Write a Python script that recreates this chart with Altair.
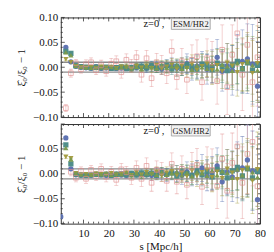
import altair as alt
import pandas as pd

# ---------------- data ----------------
s_vals = [1, 3, 5, 7, 9, 11, 13, 15, 17, 19, 21, 23, 25, 27, 29, 31, 33, 35, 37, 39,
          41, 43, 45, 47, 49, 51, 53, 55, 57, 59, 61, 63, 65, 67, 69, 71, 73, 75, 77, 79]

series_names = ["blue", "teal", "olive", "green", "pink"]
series_colors = ["#5a6fb0", "#4a8a86", "#a39b3e", "#7a9a4e", "#e08c8c"]
series_shapes = ["circle", "square", "triangle-down", "triangle-up", "square"]

# top panel (ESM/HR2)
blue_t = [None, 0.040, 0.011, 0.002, 0.000, -0.001, -0.002, 0.001, -0.002, -0.001, -0.002, -0.002, -0.001, -0.001, -0.002, 0.000, 0.001, -0.002, 0.002, 0.000,
          -0.003, 0.002, 0.004, -0.002, 0.001, 0.007, -0.004, 0.002, 0.005, -0.004, 0.002, 0.020, -0.008, 0.003, -0.006, 0.010, 0.012, 0.017, 0.006, -0.038]
teal_t = [None, 0.032, 0.028, 0.003, 0.001, 0.000, -0.001, 0.000, -0.001, 0.000, -0.002, -0.001, 0.000, -0.002, -0.001, 0.001, 0.002, -0.001, 0.003, -0.002,
          0.001, 0.004, -0.003, 0.002, -0.002, 0.005, 0.001, -0.004, 0.006, 0.003, -0.005, 0.008, 0.002, -0.007, 0.004, 0.012, -0.003, 0.009, -0.006, 0.004]
olive_t = [None, 0.016, 0.010, 0.002, 0.000, -0.001, 0.000, -0.002, 0.001, -0.001, 0.000, -0.002, 0.001, 0.000, -0.003, 0.002, -0.001, 0.003, -0.002, 0.004,
           -0.003, 0.001, 0.005, -0.004, 0.003, -0.002, 0.006, -0.005, 0.002, 0.007, -0.006, 0.004, -0.008, 0.009, 0.003, -0.010, 0.006, 0.011, -0.012, 0.008]
green_t = [None, 0.030, 0.024, 0.003, 0.001, 0.000, -0.001, 0.001, 0.000, -0.001, 0.001, -0.001, 0.000, 0.002, -0.002, 0.001, -0.003, 0.002, 0.000, -0.002,
           0.003, -0.001, 0.002, 0.004, -0.003, 0.001, -0.005, 0.004, 0.000, -0.003, 0.006, -0.004, 0.005, 0.002, -0.007, 0.008, -0.002, 0.010, 0.004, -0.006]
pink_t = [None, -0.082, -0.012, 0.008, -0.004, 0.006, 0.010, -0.006, 0.004, -0.008, 0.007, 0.012, -0.010, 0.015, 0.003, 0.020, -0.015, 0.018, -0.022, 0.010,
          0.005, -0.012, 0.033, -0.020, 0.012, -0.025, 0.015, 0.022, -0.030, 0.018, 0.010, -0.028, 0.035, -0.040, 0.025, 0.068, -0.015, 0.045, -0.030, 0.020]

# bottom panel (GSM/HR2)
blue_b = [-0.086, 0.072, 0.010, -0.002, -0.003, -0.002, -0.003, -0.001, -0.002, -0.003, -0.002, -0.001, -0.002, -0.003, -0.001, 0.000, -0.002, 0.001, -0.003, 0.002,
          0.000, -0.002, 0.003, 0.001, -0.003, 0.004, -0.002, 0.003, 0.012, -0.004, 0.002, 0.016, -0.016, 0.004, -0.006, 0.008, 0.012, 0.028, 0.006, -0.052]
teal_b = [None, 0.058, 0.020, -0.001, -0.002, -0.003, -0.002, -0.001, -0.002, -0.001, -0.003, -0.001, 0.000, -0.002, 0.001, -0.002, 0.002, -0.001, 0.001, -0.003,
          0.003, -0.001, 0.002, -0.004, 0.004, 0.001, -0.003, 0.006, -0.002, 0.005, -0.006, 0.009, 0.003, -0.008, 0.006, 0.013, -0.004, 0.010, -0.008, 0.005]
olive_b = [None, 0.034, 0.031, 0.001, -0.002, -0.001, -0.003, 0.000, -0.001, -0.002, 0.001, -0.002, -0.001, 0.001, -0.003, 0.002, -0.002, 0.003, -0.001, 0.004,
           -0.004, 0.002, 0.005, -0.003, 0.002, -0.005, 0.006, -0.004, 0.003, 0.008, -0.007, 0.004, -0.009, 0.010, 0.002, -0.011, 0.007, 0.012, -0.014, 0.009]
green_b = [None, 0.052, 0.029, 0.001, -0.001, -0.002, -0.002, 0.000, -0.001, 0.001, -0.002, 0.000, -0.001, 0.002, -0.002, 0.001, -0.003, 0.001, 0.002, -0.002,
           0.003, -0.002, 0.001, 0.004, -0.003, 0.002, -0.005, 0.003, 0.001, -0.004, 0.006, -0.003, 0.005, 0.002, -0.008, 0.009, -0.003, 0.011, 0.003, -0.007]
pink_b = [None, None, 0.004, -0.008, 0.006, -0.010, 0.008, -0.004, 0.010, -0.006, 0.004, -0.012, 0.009, 0.003, -0.008, 0.012, -0.010, 0.016, -0.018, 0.008,
          0.004, -0.014, 0.020, -0.016, 0.010, -0.022, 0.013, 0.018, -0.026, 0.015, 0.008, -0.024, 0.030, -0.034, 0.022, 0.055, -0.018, 0.040, 0.064, -0.025]

# error bar half-widths (per series)
err_blue = [0.004, 0.003, 0.002, 0.002, 0.002, 0.002, 0.003, 0.003, 0.003, 0.004, 0.004, 0.005, 0.005, 0.006, 0.006, 0.007, 0.008, 0.009, 0.010, 0.011,
            0.012, 0.013, 0.015, 0.016, 0.018, 0.020, 0.022, 0.024, 0.027, 0.030, 0.033, 0.036, 0.040, 0.045, 0.050, 0.056, 0.063, 0.070, 0.080, 0.090]
err_teal = [0.003, 0.003, 0.002, 0.002, 0.002, 0.002, 0.002, 0.003, 0.003, 0.003, 0.004, 0.004, 0.004, 0.005, 0.005, 0.006, 0.007, 0.007, 0.008, 0.009,
            0.010, 0.011, 0.012, 0.013, 0.015, 0.016, 0.018, 0.020, 0.022, 0.024, 0.027, 0.030, 0.033, 0.036, 0.040, 0.045, 0.050, 0.056, 0.063, 0.070]
err_olive = [0.004, 0.003, 0.003, 0.002, 0.002, 0.002, 0.003, 0.003, 0.003, 0.004, 0.004, 0.004, 0.005, 0.005, 0.006, 0.006, 0.007, 0.008, 0.009, 0.010,
             0.011, 0.012, 0.013, 0.014, 0.016, 0.018, 0.019, 0.021, 0.024, 0.026, 0.029, 0.032, 0.035, 0.039, 0.043, 0.048, 0.053, 0.059, 0.066, 0.075]
err_green = [0.003, 0.003, 0.002, 0.002, 0.002, 0.002, 0.002, 0.003, 0.003, 0.003, 0.003, 0.004, 0.004, 0.005, 0.005, 0.006, 0.006, 0.007, 0.008, 0.009,
             0.010, 0.011, 0.012, 0.013, 0.014, 0.016, 0.017, 0.019, 0.021, 0.023, 0.026, 0.028, 0.031, 0.035, 0.038, 0.042, 0.047, 0.052, 0.058, 0.065]
err_pink = [0.008, 0.007, 0.008, 0.008, 0.008, 0.009, 0.009, 0.009, 0.010, 0.010, 0.011, 0.011, 0.012, 0.012, 0.013, 0.014, 0.015, 0.016, 0.017, 0.018,
            0.019, 0.021, 0.022, 0.024, 0.026, 0.028, 0.030, 0.033, 0.036, 0.039, 0.042, 0.046, 0.050, 0.055, 0.060, 0.066, 0.072, 0.080, 0.088, 0.098]

x_major = [10, 20, 30, 40, 50, 60, 70, 80]
x_minor = [2, 4, 6, 8, 12, 14, 16, 18, 22, 24, 26, 28, 32, 34, 36, 38, 42, 44, 46, 48,
           52, 54, 56, 58, 62, 64, 66, 68, 72, 74, 76, 78]
y_major = [-0.10, -0.05, 0.00, 0.05, 0.10]
y_minor = [-0.09, -0.08, -0.07, -0.06, -0.04, -0.03, -0.02, -0.01, 0.01, 0.02, 0.03, 0.04,
           0.06, 0.07, 0.08, 0.09]
y_labels_top = [-0.10, -0.05, 0.00, 0.05, 0.10]
y_labels_bottom = [-0.10, -0.05, 0.00, 0.05]
band_lines = [-0.01, 0.01]

panel_tags = ["ESM/HR2", "GSM/HR2"]
z_label = "z=0 ,"
y_title = "ξ̂₀/ξ₀ − 1"
x_title = "s  [Mpc/h]"

SERIF = "Liberation Serif"
W, H = 200, 100
FRAME = "#333333"


def build_df(vals_list, errs_list):
    rows = []
    for name, vals, errs in zip(series_names, vals_list, errs_list):
        for s, v, e in zip(s_vals, vals, errs):
            if v is None:
                continue
            rows.append({"s": s, "val": v, "lo": v - e, "hi": v + e, "series": name})
    return pd.DataFrame(rows)


errs = [err_blue, err_teal, err_olive, err_green, err_pink]
df_top = build_df([blue_t, teal_t, olive_t, green_t, pink_t], errs)
df_bot = build_df([blue_b, teal_b, olive_b, green_b, pink_b], errs)

xs = alt.Scale(domain=[1, 80], nice=False, zero=False)
ys = alt.Scale(domain=[-0.1, 0.1], nice=False, zero=False)
color = alt.Color("series:N", scale=alt.Scale(domain=series_names, range=series_colors), legend=None)
shape = alt.Shape("series:N", scale=alt.Scale(domain=series_names, range=series_shapes), legend=None)


def make_axes(bottom, y_label_values):
    if bottom:
        x_axis = alt.Axis(values=x_major, format="d", ticks=False, domain=False, grid=False,
                          title=x_title, labelPadding=4, titlePadding=2,
                          labelOverlap=False, labelFlush=False)
    else:
        x_axis = alt.Axis(values=x_major, labels=False, ticks=False, domain=False, grid=False,
                          title=None)
    y_axis = alt.Axis(values=y_label_values, format=".2f", ticks=False, domain=False, grid=False,
                      title=y_title, labelPadding=3, titlePadding=6,
                      labelOverlap=False, labelFlush=False)
    return x_axis, y_axis


def panel(df, tag, bottom, y_label_values):
    x_axis, y_axis = make_axes(bottom, y_label_values)

    def X(field):
        return alt.X(field, scale=xs, axis=x_axis)

    def Y(field):
        return alt.Y(field, scale=ys, axis=y_axis)

    base = alt.Chart(df)
    layers = []

    layers.append(base.mark_rule(strokeWidth=0.8, opacity=0.5, clip=True).encode(
        x=X("s:Q"), y=Y("lo:Q"), y2="hi:Q", color=color))

    layers.append(alt.Chart(pd.DataFrame({"val": band_lines})).mark_rule(
        color="#8c8c8c", strokeWidth=1.3).encode(y=Y("val:Q")))

    for vals, L in [(x_major, 4), (x_minor, 2)]:
        d = alt.Chart(pd.DataFrame({"s": vals}))
        layers.append(d.mark_rule(color=FRAME, strokeWidth=0.8).encode(
            x=X("s:Q"), y=alt.value(H), y2=alt.value(H - L)))
        layers.append(d.mark_rule(color=FRAME, strokeWidth=0.8).encode(
            x=X("s:Q"), y=alt.value(0), y2=alt.value(L)))
    for vals, L in [(y_major, 4), (y_minor, 2)]:
        d = alt.Chart(pd.DataFrame({"val": vals}))
        layers.append(d.mark_rule(color=FRAME, strokeWidth=0.8).encode(
            y=Y("val:Q"), x=alt.value(0), x2=alt.value(L)))
        layers.append(d.mark_rule(color=FRAME, strokeWidth=0.8).encode(
            y=Y("val:Q"), x=alt.value(W), x2=alt.value(W - L)))

    for fld in ["lo:Q", "hi:Q"]:
        layers.append(base.mark_tick(orient="horizontal", size=4, thickness=0.8, opacity=0.5,
                                     clip=True).encode(x=X("s:Q"), y=Y(fld), color=color))

    layers.append(base.transform_filter("datum.series != 'pink'").mark_point(
        filled=True, size=28, opacity=0.95, clip=True).encode(
        x=X("s:Q"), y=Y("val:Q"), color=color, shape=shape))
    layers.append(base.transform_filter("datum.series == 'pink'").mark_point(
        filled=False, shape="square", size=22, strokeWidth=0.9, clip=True).encode(
        x=X("s:Q"), y=Y("val:Q"), color=color))

    tdf = pd.DataFrame({"t": [tag]})
    layers.append(alt.Chart(tdf).mark_rect(fill="#f1f1f1", stroke="#9a9a9a", strokeWidth=0.8).encode(
        x=alt.value(111), x2=alt.value(150), y=alt.value(1), y2=alt.value(12)))
    layers.append(alt.Chart(tdf).mark_text(font=SERIF, fontSize=8.5, align="center",
                                           baseline="middle", color="#222").encode(
        x=alt.value(130.5), y=alt.value(7), text="t:N"))
    layers.append(alt.Chart(pd.DataFrame({"t": [z_label]})).mark_text(
        font=SERIF, fontSize=10.5, align="right", baseline="middle", color="#111").encode(
        x=alt.value(104), y=alt.value(7), text="t:N"))

    return alt.layer(*layers).properties(width=W, height=H)


top = panel(df_top, panel_tags[0], False, y_labels_top)
bot = panel(df_bot, panel_tags[1], True, y_labels_bottom)

chart = alt.vconcat(top, bot, spacing=0).properties(
    padding={"left": 7, "top": 2, "right": 0, "bottom": 0}
).configure_view(stroke=FRAME, strokeWidth=1).configure_axis(
    labelFont=SERIF, labelFontSize=11, labelColor="#111", labelOverlap=False,
    titleFont=SERIF, titleFontSize=11, titleFontWeight="normal", titleColor="#111"
).configure_concat(spacing=0)

chart.save("out.html", embed_options={"renderer": "svg", "actions": False})
